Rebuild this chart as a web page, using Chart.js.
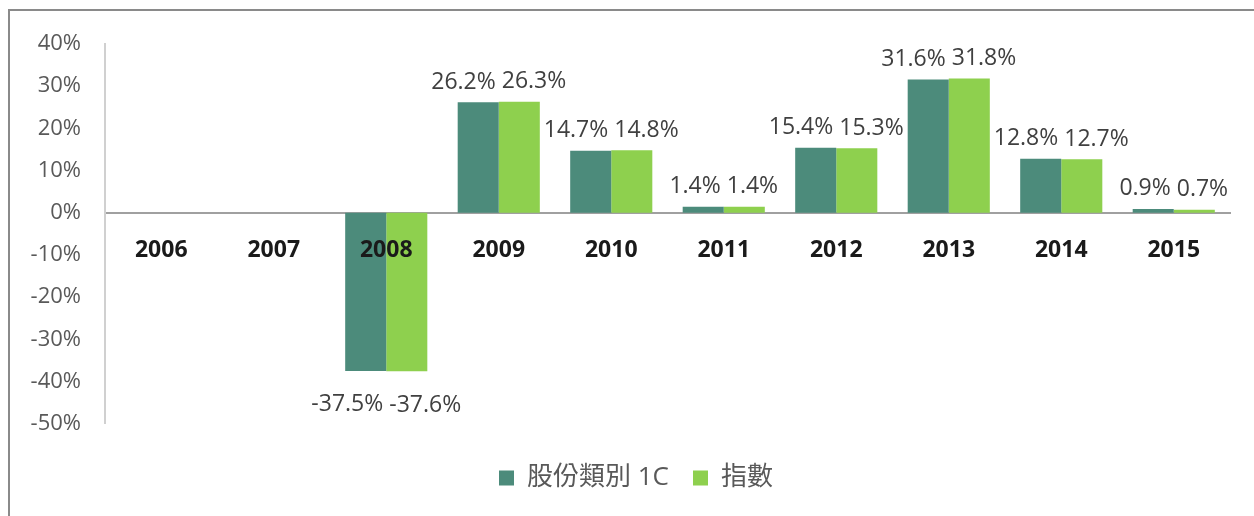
<!DOCTYPE html>
<html>
<head>
<meta charset="utf-8">
<script src="https://cdn.jsdelivr.net/npm/chart.js@4"></script>
<style>
    html, body { margin: 0; padding: 0; background: #fff; }
    #wrap { position: relative; width: 1254px; height: 516px; }
    #frame {
        position: absolute; left: 8px; top: 9px; right: 0; bottom: 0;
        border-top: 2px solid #8a8a8a; border-left: 2px solid #8a8a8a;
        pointer-events: none;
    }
</style>
</head>
<body>
<div id="wrap">
    <canvas id="chart" width="1254" height="516"></canvas>
    <div id="frame"></div>
</div>
<script>
const years = ['2006', '2007', '2008', '2009', '2010', '2011', '2012', '2013', '2014', '2015'];
const classValues = [null, null, -37.5, 26.2, 14.7, 1.4, 15.4, 31.6, 12.8, 0.9];
const indexValues = [null, null, -37.6, 26.3, 14.8, 1.4, 15.3, 31.8, 12.7, 0.7];
const seriesNames = ['股份類別 1C', '指數'];
const yTicks = [40, 30, 20, 10, 0, -10, -20, -30, -40, -50];

const FONT = "'Open Sans', 'Noto Sans CJK TC', sans-serif";

// value labels above / below each bar, pushed apart when the pair would overlap
const barLabels = {
    id: 'barLabels',
    afterDatasetsDraw(chart) {
        const ctx = chart.ctx;
        const gap = 6;
        ctx.save();
        ctx.font = '23px ' + FONT;
        ctx.fillStyle = '#404040';
        ctx.textAlign = 'center';
        ctx.textBaseline = 'middle';
        const left = chart.getDatasetMeta(0).data;
        const right = chart.getDatasetMeta(1).data;
        years.forEach((yr, j) => {
            const a = classValues[j], b = indexValues[j];
            if (a === null || b === null) return;
            const ta = a.toFixed(1) + '%', tb = b.toFixed(1) + '%';
            const wa = ctx.measureText(ta).width, wb = ctx.measureText(tb).width;
            let xa = left[j].x, xb = right[j].x;
            const overlap = (xa + wa / 2) - (xb - wb / 2) + gap;
            if (overlap > 0) { xa -= overlap / 2; xb += overlap / 2; }
            ctx.fillText(ta, xa, a >= 0 ? left[j].y - 20 : left[j].y + 34);
            ctx.fillText(tb, xb, b >= 0 ? right[j].y - 20 : right[j].y + 34);
        });
        ctx.restore();
    }
};

const ctx = document.getElementById('chart').getContext('2d');
const chart = new Chart(ctx, {
    type: 'bar',
    data: {
        labels: years,
        datasets: [{
            label: seriesNames[0],
            data: classValues,
            backgroundColor: '#4c8b7b'
        }, {
            label: seriesNames[1],
            data: indexValues,
            backgroundColor: '#8ed04e'
        }]
    },
    options: {
        responsive: false,
        animation: false,
        layout: { padding: { top: 44, left: 26, right: 8, bottom: 15 } },
        datasets: {
            bar: { barPercentage: 1, categoryPercentage: 0.73 }
        },
        scales: {
            x: {
                position: { y: 0 },
                grid: { display: false, drawTicks: false },
                border: { display: true, color: '#a0a0a0', width: 2 },
                ticks: {
                    z: 1,
                    padding: 24,
                    color: '#1a1a1a',
                    font: { family: FONT, size: 23, weight: 'bold' }
                }
            },
            y: {
                min: -50,
                max: 40,
                grid: { display: false, drawTicks: false },
                border: { display: true, color: '#d0d0d0', width: 2 },
                afterBuildTicks(scale) {
                    scale.ticks = yTicks.map(v => ({ value: v }));
                },
                afterFit(scale) { scale.width = 79; },
                ticks: {
                    padding: 24,
                    color: '#595959',
                    font: { family: FONT, size: 22 },
                    callback: (v) => v + '%'
                }
            },
            // empty spacer on the right so the plot ends short of the frame
            spacer: {
                position: 'right',
                grid: { display: false, drawTicks: false },
                border: { display: false },
                ticks: { display: false },
                afterFit(scale) { scale.width = 16; }
            }
        },
        plugins: {
            tooltip: { enabled: false },
            legend: {
                position: 'bottom',
                title: { display: true, text: '', padding: { top: 0, bottom: 3 } },
                labels: {
                    boxWidth: 15,
                    boxHeight: 15,
                    padding: 24,
                    color: '#595959',
                    font: { family: FONT, size: 26 }
                }
            }
        }
    },
    plugins: [barLabels]
});
</script>
</body>
</html>
